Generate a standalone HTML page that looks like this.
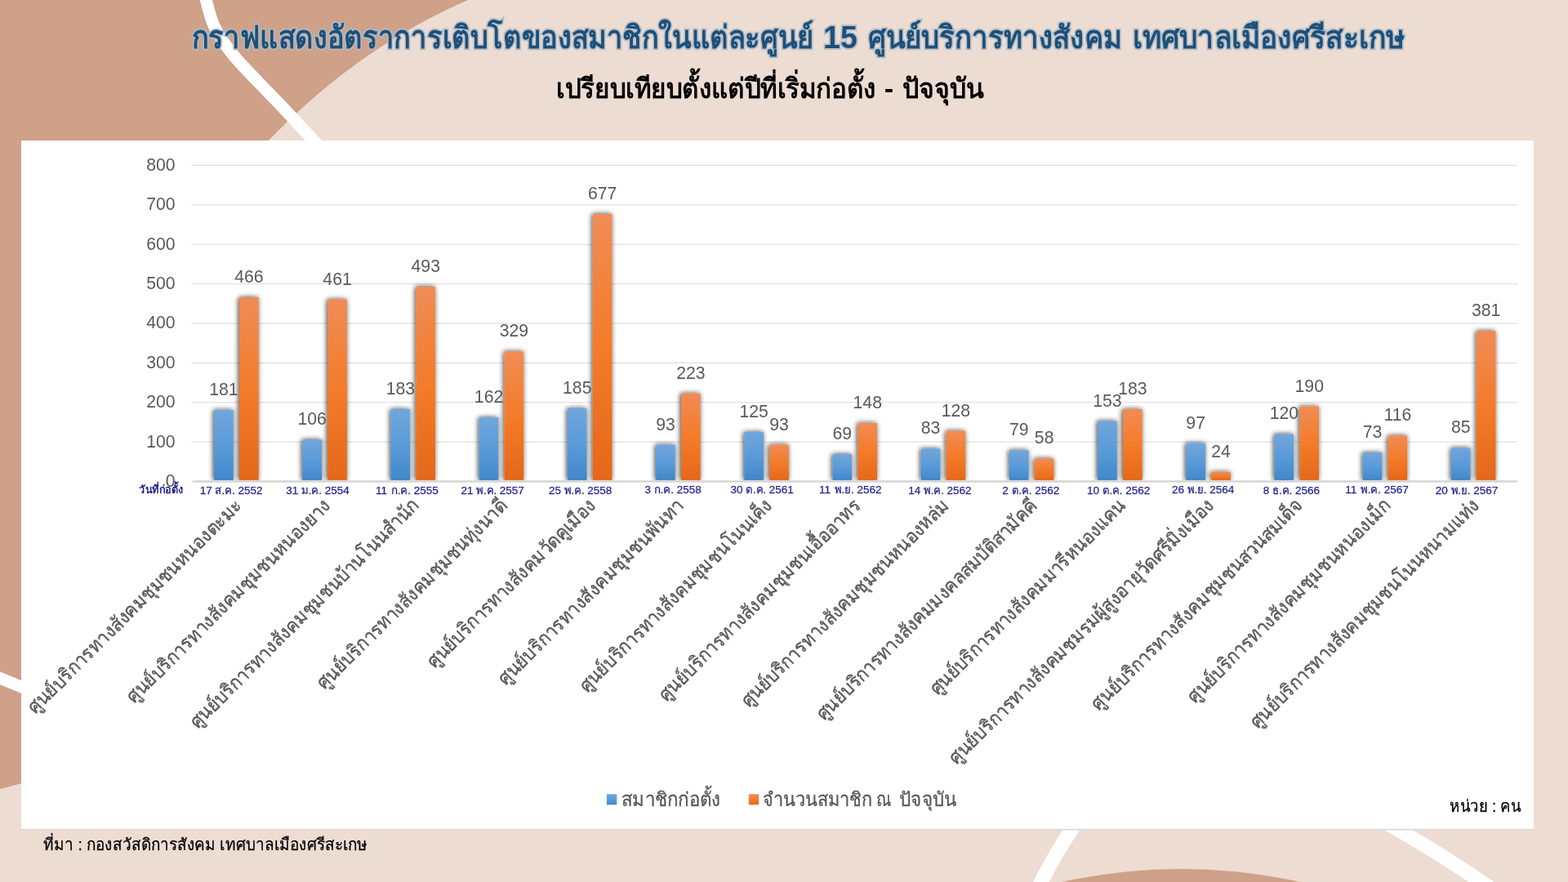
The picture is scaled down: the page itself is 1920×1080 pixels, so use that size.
<!DOCTYPE html>
<html lang="th">
<head>
<meta charset="utf-8">
<title>กราฟแสดงอัตราการเติบโตของสมาชิกในแต่ละศูนย์ 15 ศูนย์บริการทางสังคม เทศบาลเมืองศรีสะเกษ</title>
<style>
html,body{margin:0;padding:0}
body{width:1920px;height:1080px;position:relative;overflow:hidden;background:#EDDCD2;font-family:"Liberation Sans",sans-serif}
.layer{position:absolute;left:0;top:0;display:block}
.fg{will-change:transform}
.panel{position:absolute;background:#fff;box-shadow:0 1.6px 0 #DAD8D6}
.num{font-family:"Liberation Sans",sans-serif}
.th{font-family:"Liberation Sans",sans-serif}
</style>
</head>
<body>
<svg class="layer" width="1920" height="1080" viewBox="0 0 1920 1080" aria-hidden="true">
<path fill="#CEA188" d="M0 0H573Q439 58 329 172L200 300L26 959.2L0 966.3Z"/>
<path fill="none" stroke="#fff" stroke-width="14.8" d="M250.5 -10L252.3 0C254.4 7.2 257.4 22.2 262.9 33.3C268.3 44.4 276.2 55.6 285 66.7C293.8 77.8 305.3 88.9 315.8 100C326.3 111.1 336.6 121.4 347.9 133.3C359.2 145.2 374.8 162.1 383.8 171.7C392.8 181.3 396.0 184.6 402 191"/>
<path fill="none" stroke="#fff" stroke-width="14.5" d="M-10 826.3L40 846.8"/>
<path fill="none" stroke="#fff" stroke-width="17.5" d="M1330 990Q1290 1045 1268 1095"/>
<path fill="none" stroke="#fff" stroke-width="17.5" d="M1650 983Q1745 1030 1850 1105"/>
<ellipse cx="1446" cy="1734" rx="670" ry="670" fill="#CEA188"/>
</svg>
<section class="panel" style="left:26px;top:172px;width:1852px;height:843.4px"></section>
<svg class="layer fg" width="1920" height="1080" viewBox="0 0 1920 1080">
<defs>
<linearGradient id="gb" x1="0" y1="0" x2="0" y2="1"><stop offset="0" stop-color="#71A6DB"/><stop offset=".5" stop-color="#5A9BD9"/><stop offset="1" stop-color="#4287C9"/></linearGradient>
<linearGradient id="go" x1="0" y1="0" x2="0" y2="1"><stop offset="0" stop-color="#F08C55"/><stop offset=".5" stop-color="#F47B2A"/><stop offset="1" stop-color="#E4681A"/></linearGradient>
<filter id="sh" x="-5%" y="-5%" width="110%" height="110%"><feGaussianBlur in="SourceAlpha" stdDeviation="3.2"/><feOffset dx="-0.8" dy="0.3"/><feComponentTransfer><feFuncA type="linear" slope="0.8"/></feComponentTransfer><feMerge><feMergeNode/><feMergeNode in="SourceGraphic"/></feMerge></filter>
<filter id="glow" x="-2%" y="-30%" width="104%" height="160%"><feGaussianBlur stdDeviation="0.35"/></filter>
</defs>
<path d="M234.5 541.13H1858M234.5 492.76H1858M234.5 444.39H1858M234.5 396.02H1858M234.5 347.66H1858M234.5 299.29H1858M234.5 250.92H1858M234.5 202.55H1858" stroke="#D9D9D9" stroke-width="1" fill="none"/>
<clipPath id="pc"><rect x="226" y="180" width="1640" height="408.3"/></clipPath>
<g clip-path="url(#pc)"><g filter="url(#sh)">
<rect x="262.15" y="501.95" width="23.6" height="86.25" fill="url(#gb)"/>
<rect x="293.05" y="364.1" width="23.6" height="224.1" fill="url(#go)"/>
<rect x="370.35" y="538.23" width="23.6" height="49.97" fill="url(#gb)"/>
<rect x="401.25" y="366.52" width="23.6" height="221.68" fill="url(#go)"/>
<rect x="478.55" y="500.99" width="23.6" height="87.21" fill="url(#gb)"/>
<rect x="509.45" y="351.04" width="23.6" height="237.16" fill="url(#go)"/>
<rect x="586.75" y="511.14" width="23.6" height="77.06" fill="url(#gb)"/>
<rect x="617.65" y="430.37" width="23.6" height="157.83" fill="url(#go)"/>
<rect x="694.95" y="500.02" width="23.6" height="88.18" fill="url(#gb)"/>
<rect x="725.85" y="262.04" width="23.6" height="326.16" fill="url(#go)"/>
<rect x="803.15" y="544.52" width="23.6" height="43.68" fill="url(#gb)"/>
<rect x="834.05" y="481.64" width="23.6" height="106.56" fill="url(#go)"/>
<rect x="911.35" y="529.04" width="23.6" height="59.16" fill="url(#gb)"/>
<rect x="942.25" y="544.52" width="23.6" height="43.68" fill="url(#go)"/>
<rect x="1019.55" y="556.13" width="23.6" height="32.07" fill="url(#gb)"/>
<rect x="1050.45" y="517.91" width="23.6" height="70.29" fill="url(#go)"/>
<rect x="1127.75" y="549.35" width="23.6" height="38.85" fill="url(#gb)"/>
<rect x="1158.65" y="527.59" width="23.6" height="60.61" fill="url(#go)"/>
<rect x="1235.95" y="551.29" width="23.6" height="36.91" fill="url(#gb)"/>
<rect x="1266.85" y="561.45" width="23.6" height="26.75" fill="url(#go)"/>
<rect x="1344.15" y="515.5" width="23.6" height="72.7" fill="url(#gb)"/>
<rect x="1375.05" y="500.99" width="23.6" height="87.21" fill="url(#go)"/>
<rect x="1452.35" y="542.58" width="23.6" height="45.62" fill="url(#gb)"/>
<rect x="1483.25" y="577.89" width="23.6" height="10.31" fill="url(#go)"/>
<rect x="1560.55" y="531.46" width="23.6" height="56.74" fill="url(#gb)"/>
<rect x="1591.45" y="497.6" width="23.6" height="90.6" fill="url(#go)"/>
<rect x="1668.75" y="554.19" width="23.6" height="34.01" fill="url(#gb)"/>
<rect x="1699.65" y="533.39" width="23.6" height="54.81" fill="url(#go)"/>
<rect x="1776.95" y="548.39" width="23.6" height="39.81" fill="url(#gb)"/>
<rect x="1807.85" y="405.22" width="23.6" height="182.98" fill="url(#go)"/>
</g></g>
<path d="M235.6 589.5H1858" stroke="#D4D4D4" stroke-width="2.4" fill="none"/>
<g class="num" text-anchor="middle" fill="#595959" font-size="21.2">
<text x="273.95" y="483.95">181</text>
<text x="304.85" y="346.1">466</text>
<text x="382.15" y="520.23">106</text>
<text x="413.05" y="348.52">461</text>
<text x="490.35" y="482.99">183</text>
<text x="521.25" y="333.04">493</text>
<text x="598.55" y="493.14">162</text>
<text x="629.45" y="412.37">329</text>
<text x="706.75" y="482.02">185</text>
<text x="737.65" y="244.04">677</text>
<text x="814.95" y="526.52">93</text>
<text x="845.85" y="463.64">223</text>
<text x="923.15" y="511.04">125</text>
<text x="954.05" y="526.52">93</text>
<text x="1031.35" y="538.13">69</text>
<text x="1062.25" y="499.91">148</text>
<text x="1139.55" y="531.35">83</text>
<text x="1170.45" y="509.59">128</text>
<text x="1247.75" y="533.29">79</text>
<text x="1278.65" y="543.45">58</text>
<text x="1355.95" y="497.5">153</text>
<text x="1386.85" y="482.99">183</text>
<text x="1464.15" y="524.58">97</text>
<text x="1495.05" y="559.89">24</text>
<text x="1572.35" y="513.46">120</text>
<text x="1603.25" y="479.6">190</text>
<text x="1680.55" y="536.19">73</text>
<text x="1711.45" y="515.39">116</text>
<text x="1788.75" y="530.39">85</text>
<text x="1819.65" y="387.22">381</text>
</g>
<g class="num" fill="#1F1F8F" stroke="#1F1F8F" stroke-width="0.25" font-size="13.5">
<text x="244.72" y="605">17</text>
<text x="263.48" y="605" textLength="24.3" lengthAdjust="spacingAndGlyphs">ส.ค.</text>
<text x="291.51" y="605">2552</text>
<text x="350.27" y="605">31</text>
<text x="369.03" y="605" textLength="24.9" lengthAdjust="spacingAndGlyphs">ม.ค.</text>
<text x="397.71" y="605">2554</text>
<text x="460.12" y="605">11</text>
<text x="478.89" y="605" textLength="24.2" lengthAdjust="spacingAndGlyphs">ก.ค.</text>
<text x="506.85" y="605">2555</text>
<text x="564.39" y="605">21</text>
<text x="583.16" y="605" textLength="24.9" lengthAdjust="spacingAndGlyphs">พ.ค.</text>
<text x="611.83" y="605">2557</text>
<text x="671.89" y="605">25</text>
<text x="690.66" y="605" textLength="24.9" lengthAdjust="spacingAndGlyphs">พ.ค.</text>
<text x="719.33" y="605">2558</text>
<text x="789.5" y="603.75">3</text>
<text x="800.76" y="603.75" textLength="24.2" lengthAdjust="spacingAndGlyphs">ก.ค.</text>
<text x="828.72" y="603.75">2558</text>
<text x="894.46" y="604.25">30</text>
<text x="913.22" y="604.25" textLength="24.8" lengthAdjust="spacingAndGlyphs">ต.ค.</text>
<text x="941.77" y="604.25">2561</text>
<text x="1003.07" y="603.75">11</text>
<text x="1021.83" y="603.75" textLength="23.8" lengthAdjust="spacingAndGlyphs">พ.ย.</text>
<text x="1049.41" y="603.75">2562</text>
<text x="1112.14" y="605">14</text>
<text x="1130.91" y="605" textLength="24.9" lengthAdjust="spacingAndGlyphs">พ.ค.</text>
<text x="1159.58" y="605">2562</text>
<text x="1227.34" y="605">2</text>
<text x="1238.59" y="605" textLength="24.8" lengthAdjust="spacingAndGlyphs">ต.ค.</text>
<text x="1267.14" y="605">2562</text>
<text x="1330.96" y="605">10</text>
<text x="1349.72" y="605" textLength="24.8" lengthAdjust="spacingAndGlyphs">ต.ค.</text>
<text x="1378.27" y="605">2562</text>
<text x="1434.94" y="603.75">26</text>
<text x="1453.71" y="603.75" textLength="23.8" lengthAdjust="spacingAndGlyphs">พ.ย.</text>
<text x="1481.29" y="603.75">2564</text>
<text x="1546.72" y="605">8</text>
<text x="1557.98" y="605" textLength="24.3" lengthAdjust="spacingAndGlyphs">ธ.ค.</text>
<text x="1586.01" y="605">2566</text>
<text x="1647.27" y="603.75">11</text>
<text x="1666.03" y="603.75" textLength="24.9" lengthAdjust="spacingAndGlyphs">พ.ค.</text>
<text x="1694.71" y="603.75">2567</text>
<text x="1757.82" y="605">20</text>
<text x="1776.58" y="605" textLength="23.8" lengthAdjust="spacingAndGlyphs">พ.ย.</text>
<text x="1804.16" y="605">2567</text>
</g>
<text class="th" x="169.99" y="604.1" font-size="13.5" font-weight="bold" fill="#1F1F8F" textLength="54.7" lengthAdjust="spacingAndGlyphs">วันที่ก่อตั้ง</text>
<g class="num" text-anchor="end" fill="#595959" font-size="21.2">
<text x="214.6" y="595.9">0</text>
<text x="214.6" y="547.53">100</text>
<text x="214.6" y="499.16">200</text>
<text x="214.6" y="450.79">300</text>
<text x="214.6" y="402.42">400</text>
<text x="214.6" y="354.06">500</text>
<text x="214.6" y="305.69">600</text>
<text x="214.6" y="257.32">700</text>
<text x="214.6" y="208.95">800</text>
</g>
<g class="th" fill="#595959" stroke="#595959" stroke-width="0.42" font-size="23.6" text-anchor="end">
<text x="0" y="0" transform="translate(297.7 620.4) rotate(-45)" textLength="359.76" lengthAdjust="spacingAndGlyphs">ศูนย์บริการทางสังคมชุมชนหนองตะมะ</text>
<text x="0" y="0" transform="translate(405.9 620.4) rotate(-45)" textLength="341.58" lengthAdjust="spacingAndGlyphs">ศูนย์บริการทางสังคมชุมชนหนองยาง</text>
<text x="0" y="0" transform="translate(514.1 620.4) rotate(-45)" textLength="385.34" lengthAdjust="spacingAndGlyphs">ศูนย์บริการทางสังคมชุมชนบ้านโนนสำนัก</text>
<text x="0" y="0" transform="translate(622.3 620.4) rotate(-45)" textLength="318.22" lengthAdjust="spacingAndGlyphs">ศูนย์บริการทางสังคมชุมชนทุ่งนาดี</text>
<text x="0" y="0" transform="translate(730.5 620.4) rotate(-45)" textLength="280.46" lengthAdjust="spacingAndGlyphs">ศูนย์บริการทางสังคมวัดคูเมือง</text>
<text x="0" y="0" transform="translate(838.7 620.4) rotate(-45)" textLength="310.6" lengthAdjust="spacingAndGlyphs">ศูนย์บริการทางสังคมชุมชนพันทา</text>
<text x="0" y="0" transform="translate(946.9 620.4) rotate(-45)" textLength="322.77" lengthAdjust="spacingAndGlyphs">ศูนย์บริการทางสังคมชุมชนโนนเค็ง</text>
<text x="0" y="0" transform="translate(1055.1 620.4) rotate(-45)" textLength="338.59" lengthAdjust="spacingAndGlyphs">ศูนย์บริการทางสังคมชุมชนเอื้ออาทร</text>
<text x="0" y="0" transform="translate(1163.3 620.4) rotate(-45)" textLength="349.03" lengthAdjust="spacingAndGlyphs">ศูนย์บริการทางสังคมชุมชนหนองหล่ม</text>
<text x="0" y="0" transform="translate(1271.5 620.4) rotate(-45)" textLength="371.81" lengthAdjust="spacingAndGlyphs">ศูนย์บริการทางสังคมมงคลสมบัติสามัคคี</text>
<text x="0" y="0" transform="translate(1379.7 620.4) rotate(-45)" textLength="328.22" lengthAdjust="spacingAndGlyphs">ศูนย์บริการทางสังคมมารีหนองแคน</text>
<text x="0" y="0" transform="translate(1487.9 620.4) rotate(-45)" textLength="447.96" lengthAdjust="spacingAndGlyphs">ศูนย์บริการทางสังคมชมรมผู้สูงอายุวัดศรีมิ่งเมือง</text>
<text x="0" y="0" transform="translate(1596.1 620.4) rotate(-45)" textLength="354.57" lengthAdjust="spacingAndGlyphs">ศูนย์บริการทางสังคมชุมชนสวนสมเด็จ</text>
<text x="0" y="0" transform="translate(1704.3 620.4) rotate(-45)" textLength="341.32" lengthAdjust="spacingAndGlyphs">ศูนย์บริการทางสังคมชุมชนหนองเม็ก</text>
<text x="0" y="0" transform="translate(1812.5 620.4) rotate(-45)" textLength="385.74" lengthAdjust="spacingAndGlyphs">ศูนย์บริการทางสังคมชุมชนโนนหนามแท่ง</text>
</g>
<rect x="743" y="972.4" width="12.3" height="13" fill="url(#gb)"/>
<g class="th" fill="#595959" stroke="#595959" stroke-width="0.3" font-size="23.6">
<text x="761.16" y="986.8" textLength="121.4" lengthAdjust="spacingAndGlyphs">สมาชิกก่อตั้ง</text>
<text x="934.22" y="986.8" textLength="133.7" lengthAdjust="spacingAndGlyphs">จำนวนสมาชิก</text>
<text x="1072.7" y="986.8" textLength="18.5" lengthAdjust="spacingAndGlyphs">ณ</text>
<text x="1100.87" y="986.8" textLength="70.7" lengthAdjust="spacingAndGlyphs">ปัจจุบัน</text>
</g>
<rect x="916.9" y="972.4" width="12.3" height="13" fill="url(#go)"/>
<g class="th" fill="#000" stroke="#000" stroke-width="0.25" font-size="20.5">
<text x="1774.99" y="993.9" textLength="87.6" lengthAdjust="spacingAndGlyphs">หน่วย : คน</text>
<text x="53.38" y="1040.7" textLength="397" lengthAdjust="spacingAndGlyphs">ที่มา : กองสวัสดิการสังคม เทศบาลเมืองศรีสะเกษ</text>
</g>
<g class="th" fill="#B2BDC6" stroke="#B2BDC6" stroke-width="3.8" stroke-linejoin="miter" stroke-miterlimit="3" opacity=".85" filter="url(#glow)" aria-hidden="true" font-size="38.3" font-weight="bold">
<text x="234.77" y="58.75" textLength="761" lengthAdjust="spacingAndGlyphs">กราฟแสดงอัตราการเติบโตของสมาชิกในแต่ละศูนย์</text>
<text x="1008.07" y="58.75" textLength="41.8" lengthAdjust="spacingAndGlyphs">15</text>
<text x="1063" y="58.75" textLength="310.9" lengthAdjust="spacingAndGlyphs">ศูนย์บริการทางสังคม</text>
<text x="1386.6" y="58.75" textLength="334" lengthAdjust="spacingAndGlyphs">เทศบาลเมืองศรีสะเกษ</text>
</g>
<g class="th" fill="#1C507B" font-size="38.3" font-weight="bold">
<text x="234.77" y="58.75" textLength="761" lengthAdjust="spacingAndGlyphs">กราฟแสดงอัตราการเติบโตของสมาชิกในแต่ละศูนย์</text>
<text x="1008.07" y="58.75" textLength="41.8" lengthAdjust="spacingAndGlyphs">15</text>
<text x="1063" y="58.75" textLength="310.9" lengthAdjust="spacingAndGlyphs">ศูนย์บริการทางสังคม</text>
<text x="1386.6" y="58.75" textLength="334" lengthAdjust="spacingAndGlyphs">เทศบาลเมืองศรีสะเกษ</text>
</g>
<g class="th" fill="#000" font-size="33.6" font-weight="bold">
<text x="681.41" y="119.5" textLength="390.8" lengthAdjust="spacingAndGlyphs">เปรียบเทียบตั้งแต่ปีที่เริ่มก่อตั้ง</text>
<text x="1082.75" y="119.5" textLength="11.4" lengthAdjust="spacingAndGlyphs">-</text>
<text x="1104.95" y="119.5" textLength="100.3" lengthAdjust="spacingAndGlyphs">ปัจจุบัน</text>
</g>
</svg>
</body>
</html>
